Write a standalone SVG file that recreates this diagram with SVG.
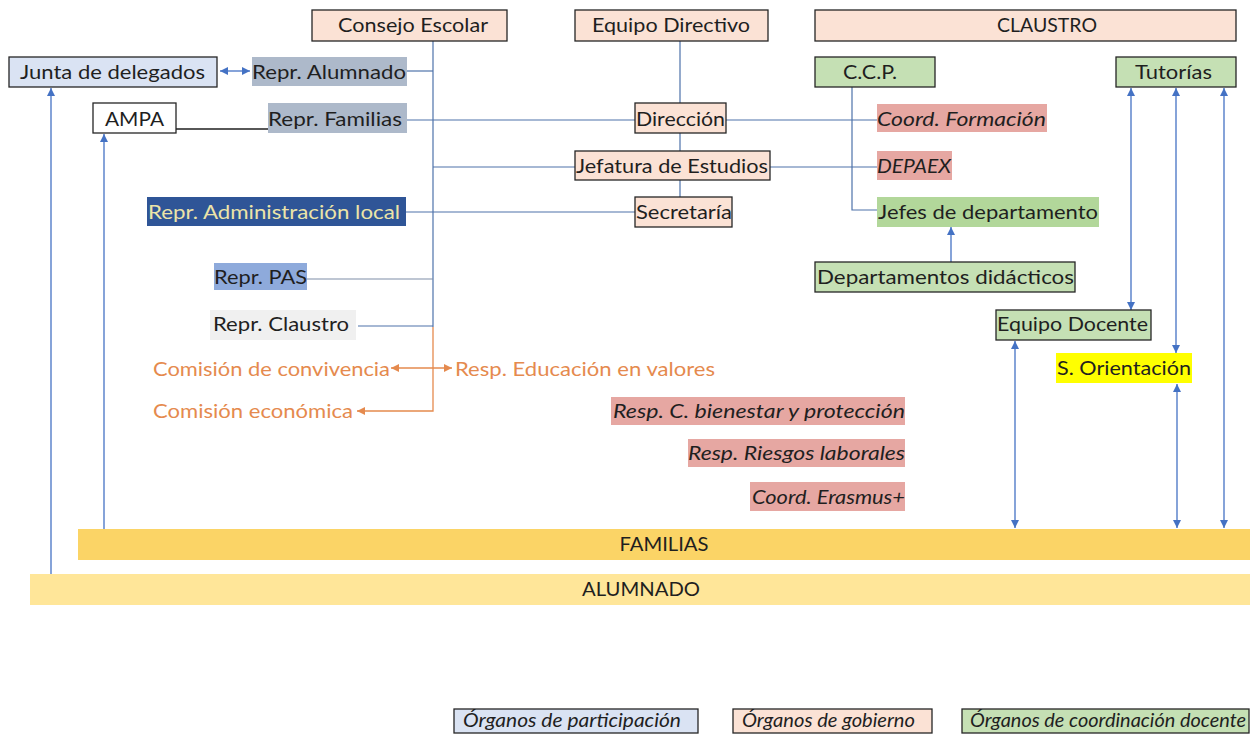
<svg xmlns="http://www.w3.org/2000/svg" width="1250" height="734" viewBox="0 0 1250 734">
<defs>
<style>
.box{stroke:#262626;stroke-width:1.3}
.gob{fill:#fbe2d5}
.par{fill:#dae3f3}
.coo{fill:#c5e0b4}
.sal{fill:#e6a7a2}
.gr{fill:#adb9ca}
.t{font-family:Lato,'Liberation Sans',sans-serif;font-size:19px;fill:#1f1f1f}
.i{font-style:italic}
.o{fill:#e58a4e}
.ln{stroke:#4e72aa;stroke-width:1.2;fill:none}
.ar{stroke:#4472c4;stroke-width:1.3;fill:none}
.or{stroke:#e58a4e;stroke-width:1.3;fill:none}
</style>
<marker id="ab" viewBox="0 0 10 10" refX="10" refY="5" markerWidth="8" markerHeight="8" markerUnits="userSpaceOnUse" orient="auto-start-reverse"><path d="M0,0 L10,5 L0,10 z" fill="#4472c4"/></marker>
<marker id="ao" viewBox="0 0 10 10" refX="10" refY="5" markerWidth="8" markerHeight="8" markerUnits="userSpaceOnUse" orient="auto-start-reverse"><path d="M0,0 L10,5 L0,10 z" fill="#e58a4e"/></marker>
</defs>
<rect width="1250" height="734" fill="#ffffff"/>

<g id="familias"><rect x="78" y="529" width="1172" height="31" fill="#fbd466"/><text class="t" x="664" y="551" text-anchor="middle" textLength="89" lengthAdjust="spacingAndGlyphs">FAMILIAS</text></g>
<g id="alumnado"><rect x="30" y="574" width="1220" height="31" fill="#ffe699"/><text class="t" x="641" y="596" text-anchor="middle" textLength="118" lengthAdjust="spacingAndGlyphs">ALUMNADO</text></g>

<g id="connectors">
<path class="ln" d="M433,41 V327"/>
<path class="ln" d="M407,71 H433"/>
<path class="ln" d="M407,120 H635"/>
<path class="ln" d="M433,167 H575"/>
<path class="ln" d="M406,212 H635"/>
<path class="ln" d="M307,279 H433" style="stroke:#7f8ea8"/>
<path class="ln" d="M358,326 H433"/>
<path class="ln" d="M680,41 V103 M680,133 V151 M680,180 V197"/>
<path class="ln" d="M726,120 H877"/>
<path class="ln" d="M770,167 H877"/>
<path class="ln" d="M852,87 V210 H877"/>
<path d="M93,129 H268" stroke="#1f1f1f" stroke-width="1.3" fill="none"/>
<path class="or" d="M433,327 V411 H357" marker-end="url(#ao)"/>
<path class="or" d="M391,368 H452" marker-start="url(#ao)" marker-end="url(#ao)"/>
<path class="ar" d="M220,71 H250" marker-start="url(#ab)" marker-end="url(#ab)"/>
<path class="ar" d="M51,574 V88" marker-end="url(#ab)"/>
<path class="ar" d="M104,529 V134" marker-end="url(#ab)"/>
<path class="ar" d="M951,262 V227" marker-end="url(#ab)"/>
<path class="ar" d="M1131,88 V310" marker-start="url(#ab)" marker-end="url(#ab)"/>
<path class="ar" d="M1176,88 V353" marker-start="url(#ab)" marker-end="url(#ab)"/>
<path class="ar" d="M1224,88 V528" marker-start="url(#ab)" marker-end="url(#ab)"/>
<path class="ar" d="M1015,341 V528" marker-start="url(#ab)" marker-end="url(#ab)"/>
<path class="ar" d="M1177,384 V528" marker-start="url(#ab)" marker-end="url(#ab)"/>
</g>

<g id="consejo-escolar"><rect class="box gob" x="312" y="10" width="195" height="31"/><text class="t" x="338" y="32" textLength="150" lengthAdjust="spacingAndGlyphs">Consejo Escolar</text></g>
<g id="equipo-directivo"><rect class="box gob" x="575" y="10" width="193" height="31"/><text class="t" x="592" y="32" textLength="158" lengthAdjust="spacingAndGlyphs">Equipo Directivo</text></g>
<g id="claustro"><rect class="box gob" x="815" y="10" width="421" height="31"/><text class="t" x="997" y="32" textLength="100" lengthAdjust="spacingAndGlyphs">CLAUSTRO</text></g>

<g id="junta"><rect class="box par" x="9" y="57" width="208" height="30"/><text class="t" x="20" y="79" textLength="185" lengthAdjust="spacingAndGlyphs">Junta de delegados</text></g>
<g id="repr-alumnado"><rect class="gr" x="252" y="57" width="155" height="29"/><text class="t" x="252" y="79" textLength="154" lengthAdjust="spacingAndGlyphs">Repr. Alumnado</text></g>
<g id="ccp"><rect class="box coo" x="815" y="57" width="120" height="30"/><text class="t" x="843" y="79" textLength="54" lengthAdjust="spacingAndGlyphs">C.C.P.</text></g>
<g id="tutorias"><rect class="box coo" x="1116" y="57" width="120" height="30"/><text class="t" x="1135" y="79" textLength="77" lengthAdjust="spacingAndGlyphs">Tutorías</text></g>

<g id="ampa"><rect class="box" x="93" y="103" width="83" height="30" fill="#ffffff"/><text class="t" x="105" y="126" textLength="59" lengthAdjust="spacingAndGlyphs">AMPA</text></g>
<g id="repr-familias"><rect class="gr" x="268" y="103" width="139" height="30"/><text class="t" x="268" y="126" textLength="134" lengthAdjust="spacingAndGlyphs">Repr. Familias</text></g>
<g id="direccion"><rect class="box gob" x="635" y="103" width="91" height="30"/><text class="t" x="636" y="126" textLength="89" lengthAdjust="spacingAndGlyphs">Dirección</text></g>
<g id="coord-formacion"><rect class="sal" x="877" y="104" width="170" height="28"/><text class="t i" x="877" y="126" textLength="169" lengthAdjust="spacingAndGlyphs">Coord. Formación</text></g>

<g id="jefatura"><rect class="box gob" x="575" y="151" width="195" height="29"/><text class="t" x="576" y="173" textLength="192" lengthAdjust="spacingAndGlyphs">Jefatura de Estudios</text></g>
<g id="depaex"><rect class="sal" x="877" y="151" width="75" height="29"/><text class="t i" x="877" y="173" textLength="74" lengthAdjust="spacingAndGlyphs">DEPAEX</text></g>

<g id="repr-admin-local"><rect x="147" y="197" width="259" height="29" fill="#2f5597"/><text class="t" x="148" y="219" textLength="252" lengthAdjust="spacingAndGlyphs" style="fill:#ece4a8">Repr. Administración local</text></g>
<g id="secretaria"><rect class="box gob" x="635" y="197" width="97" height="30"/><text class="t" x="636" y="219" textLength="96" lengthAdjust="spacingAndGlyphs">Secretaría</text></g>
<g id="jefes-departamento"><rect x="877" y="197" width="222" height="30" fill="#b2d79a"/><text class="t" x="878" y="219" textLength="220" lengthAdjust="spacingAndGlyphs">Jefes de departamento</text></g>

<g id="departamentos-didacticos"><rect class="box coo" x="815" y="262" width="260" height="30"/><text class="t" x="817" y="284" textLength="257" lengthAdjust="spacingAndGlyphs">Departamentos didácticos</text></g>
<g id="repr-pas"><rect x="214" y="263" width="93" height="27" fill="#8eaadb"/><text class="t" x="214" y="284" textLength="93" lengthAdjust="spacingAndGlyphs">Repr. PAS</text></g>
<g id="repr-claustro"><rect x="210" y="310" width="146" height="30" fill="#f0f0f0"/><text class="t" x="213" y="331" textLength="136" lengthAdjust="spacingAndGlyphs">Repr. Claustro</text></g>
<g id="equipo-docente"><rect class="box coo" x="996" y="310" width="155" height="30"/><text class="t" x="997" y="331" textLength="151" lengthAdjust="spacingAndGlyphs">Equipo Docente</text></g>
<g id="s-orientacion"><rect x="1056" y="353" width="136" height="30" fill="#ffff00"/><text class="t" x="1057" y="375" textLength="134" lengthAdjust="spacingAndGlyphs">S. Orientación</text></g>

<g id="comision-convivencia"><text class="t o" x="153" y="376" textLength="237" lengthAdjust="spacingAndGlyphs">Comisión de convivencia</text></g>
<g id="resp-educacion-valores"><text class="t o" x="455" y="376" textLength="260" lengthAdjust="spacingAndGlyphs">Resp. Educación en valores</text></g>
<g id="comision-economica"><text class="t o" x="153" y="418" textLength="200" lengthAdjust="spacingAndGlyphs">Comisión económica</text></g>

<g id="resp-bienestar"><rect class="sal" x="611" y="397" width="294" height="28"/><text class="t i" x="613" y="418" textLength="292" lengthAdjust="spacingAndGlyphs">Resp. C. bienestar y protección</text></g>
<g id="resp-riesgos"><rect class="sal" x="688" y="439" width="217" height="28"/><text class="t i" x="688" y="460" textLength="217" lengthAdjust="spacingAndGlyphs">Resp. Riesgos laborales</text></g>
<g id="coord-erasmus"><rect class="sal" x="750" y="482" width="155" height="29"/><text class="t i" x="752" y="504" textLength="153" lengthAdjust="spacingAndGlyphs">Coord. Erasmus+</text></g>

<g id="legend-participacion"><rect class="box par" x="454" y="709" width="244" height="24"/><text class="t i" x="463" y="727" textLength="218" lengthAdjust="spacingAndGlyphs">Órganos de participación</text></g>
<g id="legend-gobierno"><rect class="box gob" x="733" y="709" width="199" height="24"/><text class="t i" x="742" y="727" textLength="173" lengthAdjust="spacingAndGlyphs">Órganos de gobierno</text></g>
<g id="legend-coordinacion"><rect class="box coo" x="962" y="709" width="287" height="24"/><text class="t i" x="970" y="727" textLength="276" lengthAdjust="spacingAndGlyphs">Órganos de coordinación docente</text></g>
</svg>
